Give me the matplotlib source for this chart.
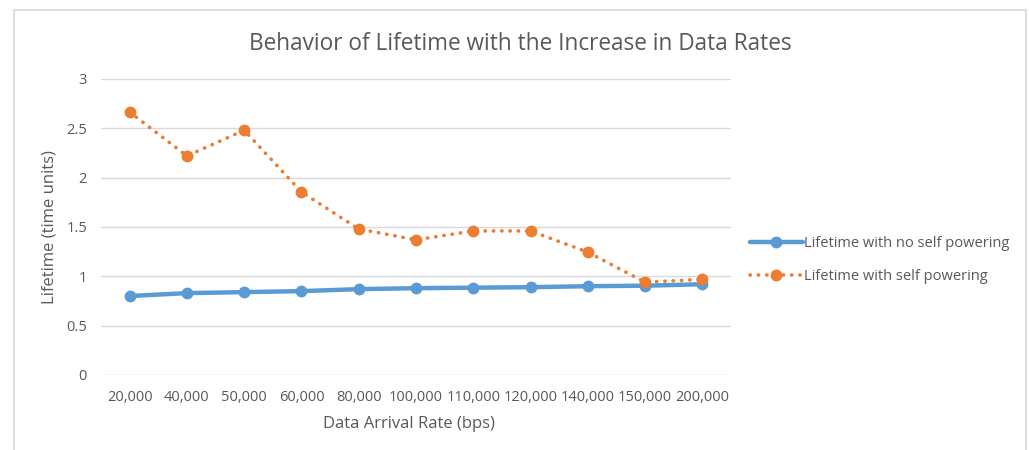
import matplotlib
matplotlib.use("Agg")
import matplotlib.pyplot as plt
from matplotlib.patches import Rectangle

# Data
rates = ["20,000", "40,000", "50,000", "60,000", "80,000", "100,000",
         "110,000", "120,000", "140,000", "150,000", "200,000"]
no_self_powering = [0.80, 0.83, 0.84, 0.85, 0.87, 0.88, 0.885, 0.89, 0.90, 0.905, 0.92]
self_powering = [2.665, 2.22, 2.48, 1.855, 1.48, 1.37, 1.46, 1.46, 1.245, 0.94, 0.97]
y_ticks = [0, 0.5, 1, 1.5, 2, 2.5, 3]
y_tick_labels = ["0", "0.5", "1", "1.5", "2", "2.5", "3"]

plt.rcParams['font.family'] = ['Open Sans', 'DejaVu Sans']
text_color = "#595959"
blue = "#5B9BD5"
orange = "#ED7D31"

W, H = 1029, 450
fig = plt.figure(figsize=(W / 100, H / 100), dpi=100)
fig.patch.set_facecolor("white")

# chart frame
fig.patches.append(Rectangle((13.5 / W, -0.01), (1026 - 13.5) / W, 1 - 10 / H + 0.01,
                             transform=fig.transFigure, fill=False,
                             edgecolor="#D9D9D9", linewidth=1.2))

ax = fig.add_axes([101 / W, 1 - 375 / H, (731 - 101) / W, (375 - 79) / H])
x = list(range(len(rates)))

ax.plot(x, no_self_powering, color=blue, linewidth=3.2, marker="o",
        markersize=7.5, solid_capstyle="round",
        label="Lifetime with no self powering", zorder=3)
ax.plot(x, self_powering, color=orange, linewidth=2.6, linestyle=(0, (0.1, 2.2)),
        dash_capstyle="round", marker="o", markersize=7.5,
        label="Lifetime with self powering", zorder=4)

ax.set_xlim(-0.5, len(rates) - 0.5)
ax.set_ylim(0, 3)
ax.set_xticks(x)
ax.set_xticklabels(rates)
ax.set_yticks(y_ticks)
ax.set_yticklabels(y_tick_labels)
ax.tick_params(axis="both", length=0, labelsize=10.5, colors=text_color)
ax.tick_params(axis="x", pad=11)
ax.tick_params(axis="y", pad=10)
for s in ax.spines.values():
    s.set_visible(False)
ax.grid(axis="y", color="#D9D9D9", linewidth=1.0)
ax.set_axisbelow(True)

ax.set_xlabel("Data Arrival Rate (bps)", fontsize=12, color=text_color, va="center")
ax.xaxis.set_label_coords((409 - 101) / 630, (375 - 424) / 296)
ax.set_ylabel("Lifetime (time units)", fontsize=12, color=text_color, va="center")
ax.yaxis.set_label_coords((50 - 101) / 630, 0.5)

fig.text(520 / W, 1 - 44 / H,
         "Behavior of Lifetime with the Increase in Data Rates",
         ha="center", va="center", fontsize=16.3, color=text_color)

leg = ax.legend(loc="center left", bbox_to_anchor=(737 / W, 1 - 260 / H),
                bbox_transform=fig.transFigure, frameon=False, fontsize=10.5,
                labelcolor=text_color, handlelength=3.6, handletextpad=0.1,
                labelspacing=1.2)

fig.savefig("out.png", dpi=100)
